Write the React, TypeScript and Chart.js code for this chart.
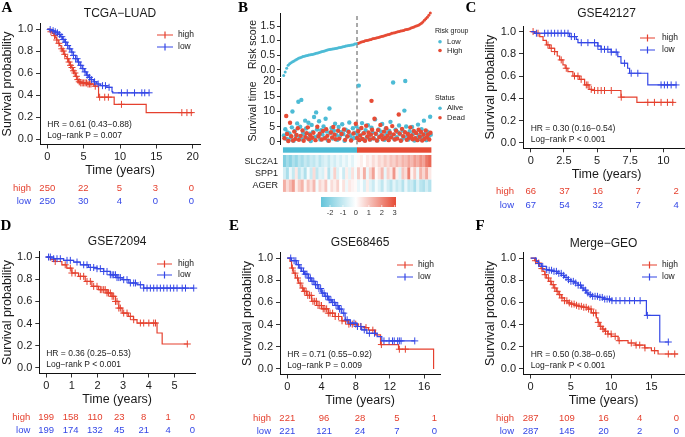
import React, { useEffect, useRef } from 'react';
import { Chart, registerables } from 'chart.js';

Chart.register(...registerables);

// ---------- palette & fonts ----------
const SANS = "'Liberation Sans', Arial, Helvetica, sans-serif";
const SERIF = "'Liberation Serif', 'Times New Roman', serif";
const KM_RED = '#E5402E';
const KM_BLUE = '#3447E6';
const NPG_RED = '#E64B35';
const NPG_CYAN = '#4DBBD5';
const TXT = '#1a1a1a';

type Pt = [number, number];

// ================= DATA =================
const survTicks = [0, 0.2, 0.4, 0.6, 0.8, 1.0];

// Panel A — TCGA-LUAD
const aXTicks = [0, 5, 10, 15, 20];
const aHighCurve: Pt[] = [[0, 1], [0.3, 0.99], [0.5, 0.975], [0.7, 0.96], [0.9, 0.94], [1.1, 0.92], [1.3, 0.9], [1.5, 0.87], [1.7, 0.85], [1.9, 0.82], [2.1, 0.8], [2.3, 0.77], [2.5, 0.75], [2.7, 0.73], [2.9, 0.7], [3.1, 0.67], [3.3, 0.65], [3.5, 0.62], [3.7, 0.6], [3.9, 0.57], [4.1, 0.54], [4.3, 0.52], [4.6, 0.51], [5.5, 0.5], [6.4, 0.48], [7.05, 0.38], [9.2, 0.315], [13.6, 0.24], [20, 0.24]];
const aLowCurve: Pt[] = [[0, 1], [0.3, 0.995], [0.6, 0.985], [0.9, 0.975], [1.2, 0.965], [1.5, 0.95], [1.8, 0.93], [2.1, 0.905], [2.4, 0.88], [2.7, 0.85], [3.0, 0.82], [3.3, 0.79], [3.6, 0.76], [3.9, 0.73], [4.2, 0.7], [4.5, 0.67], [4.8, 0.64], [5.1, 0.61], [5.4, 0.58], [5.7, 0.56], [6.0, 0.54], [6.4, 0.52], [6.8, 0.5], [7.3, 0.485], [8.2, 0.47], [8.9, 0.43], [9.0, 0.42], [14, 0.42]];
const aHighCensor = [0.5, 1.0, 1.3, 1.6, 2.0, 2.2, 2.4, 2.8, 3.0, 3.2, 3.4, 3.6, 3.8, 4.0, 4.2, 4.4, 4.6, 4.8, 5.0, 5.2, 5.4, 5.6, 5.8, 6.0, 6.6, 7.2, 7.9, 8.4, 10.2, 18.5, 19.2, 19.8];
const aLowCensor = [0.4, 0.8, 1.1, 1.4, 1.7, 2.0, 2.2, 2.5, 2.8, 3.1, 3.4, 3.6, 3.9, 4.1, 4.3, 4.6, 4.9, 5.2, 5.5, 5.8, 6.1, 6.5, 7.0, 7.6, 8.0, 8.5, 10.2, 11.0, 12.0, 13.0, 13.4, 14.0];
const aRiskTimes = [0, 4.95, 9.9, 14.85, 19.8];
const aRiskHigh = [250, 22, 5, 3, 0];
const aRiskLow = [250, 30, 4, 0, 0];

// Panel C — GSE42127
const cXTicks = [0, 2.5, 5, 7.5, 10];
const cHighCurve: Pt[] = [[0, 1], [0.3, 0.985], [0.68, 0.955], [0.93, 0.92], [1.18, 0.88], [1.43, 0.85], [1.8, 0.82], [2.0, 0.78], [2.18, 0.745], [2.43, 0.7], [2.6, 0.67], [2.8, 0.64], [3.18, 0.6], [3.68, 0.57], [4.06, 0.52], [4.4, 0.48], [4.6, 0.47], [6.8, 0.41], [8.0, 0.363], [10.8, 0.363]];
const cLowCurve: Pt[] = [[0, 1], [0.3, 0.985], [2.93, 0.955], [3.43, 0.93], [3.56, 0.9], [5.06, 0.87], [5.3, 0.84], [6.06, 0.815], [6.56, 0.775], [6.8, 0.715], [7.3, 0.67], [7.45, 0.625], [8.82, 0.52], [11.0, 0.52]];
const cHighCensor = [0.18, 0.55, 1.3, 1.55, 1.8, 2.3, 2.68, 3.3, 3.56, 3.8, 4.19, 4.31, 4.56, 4.81, 5.06, 5.31, 5.56, 6.07, 6.82, 8.82, 9.32, 9.82, 10.3, 10.7];
const cLowCensor = [0.43, 1.05, 1.3, 1.55, 1.8, 2.05, 2.3, 2.56, 2.81, 3.06, 3.3, 3.81, 4.31, 4.81, 5.06, 5.31, 5.56, 5.81, 6.07, 6.44, 7.07, 7.57, 8.07, 9.82, 10.07, 10.3, 10.58, 10.95];
const cRiskTimes = [0, 2.55, 5.05, 8.1, 10.95];
const cRiskHigh = [66, 37, 16, 7, 2];
const cRiskLow = [67, 54, 32, 7, 4];

// Panel D — GSE72094
const dXTicks = [0, 1, 2, 3, 4, 5];
const dHighCurve: Pt[] = [[0, 1], [0.16, 0.976], [0.35, 0.96], [0.61, 0.93], [0.8, 0.9], [1.0, 0.856], [1.26, 0.826], [1.52, 0.78], [1.78, 0.736], [2.04, 0.706], [2.37, 0.676], [2.56, 0.646], [2.7, 0.6], [2.83, 0.54], [2.96, 0.495], [3.2, 0.465], [3.4, 0.435], [3.54, 0.405], [4.32, 0.315], [4.52, 0.216], [5.5, 0.216]];
const dLowCurve: Pt[] = [[0, 1], [0.29, 0.985], [0.68, 0.97], [1.07, 0.955], [1.33, 0.93], [1.65, 0.906], [1.98, 0.895], [2.24, 0.87], [2.5, 0.84], [2.76, 0.815], [2.96, 0.796], [3.22, 0.766], [3.54, 0.75], [3.8, 0.72], [5.75, 0.72]];
const dHighCensor = [0.35, 0.74, 0.94, 1.0, 1.13, 1.33, 1.46, 1.59, 1.72, 1.85, 1.98, 2.11, 2.17, 2.24, 2.3, 2.37, 2.43, 2.5, 2.57, 2.63, 2.7, 2.76, 2.83, 2.89, 3.02, 3.15, 3.28, 3.41, 3.67, 3.8, 4.0, 4.19, 4.26, 5.5];
const dLowCensor = [0.09, 0.16, 0.29, 0.42, 0.55, 0.81, 0.94, 1.2, 1.46, 1.59, 1.72, 1.85, 1.98, 2.11, 2.24, 2.37, 2.5, 2.57, 2.63, 2.7, 2.76, 2.83, 2.89, 3.02, 3.15, 3.28, 3.41, 3.48, 3.67, 3.8, 3.93, 4.06, 4.19, 4.32, 4.45, 4.58, 4.71, 4.84, 4.97, 5.1, 5.3, 5.43, 5.75];
const dRiskTimes = [0, 0.95, 1.9, 2.85, 3.8, 4.75, 5.7];
const dRiskHigh = [199, 158, 110, 23, 8, 1, 0];
const dRiskLow = [199, 174, 132, 45, 21, 4, 0];

// Panel E — GSE68465
const eXTicks = [0, 4, 8, 12, 16];
const eHighCurve: Pt[] = [[0, 1], [0.31, 0.97], [0.5, 0.91], [0.7, 0.864], [0.98, 0.82], [1.29, 0.774], [1.6, 0.73], [1.88, 0.7], [2.27, 0.663], [2.85, 0.61], [3.44, 0.572], [4.02, 0.542], [4.8, 0.503], [5.59, 0.473], [6.37, 0.434], [7.15, 0.404], [8.3, 0.383], [9.1, 0.373], [9.5, 0.35], [10.3, 0.307], [10.9, 0.22], [13.0, 0.178], [17.1, 0.0]];
const eLowCurve: Pt[] = [[0, 1], [0.5, 0.976], [1.1, 0.94], [1.4, 0.91], [1.68, 0.88], [2.0, 0.855], [2.46, 0.82], [2.8, 0.79], [3.24, 0.76], [3.6, 0.725], [4.02, 0.684], [4.4, 0.655], [4.8, 0.623], [5.2, 0.6], [5.59, 0.572], [6.0, 0.54], [6.37, 0.503], [6.76, 0.443], [7.34, 0.413], [8.13, 0.383], [8.7, 0.352], [9.3, 0.322], [10.5, 0.292], [11.05, 0.253], [14.9, 0.253]];
const eHighCensor = [0.6, 0.9, 1.2, 1.5, 1.8, 2.0, 2.2, 2.4, 2.6, 2.8, 3.0, 3.2, 3.4, 3.6, 3.8, 4.0, 4.2, 4.4, 4.6, 4.8, 5.0, 5.3, 5.6, 6.0, 6.4, 6.8, 7.2, 7.6, 8.0, 8.6, 9.2, 10.0, 11.0, 13.1, 13.8];
const eLowCensor = [0.4, 0.8, 1.0, 1.3, 1.6, 1.9, 2.1, 2.3, 2.5, 2.7, 2.9, 3.1, 3.3, 3.5, 3.7, 3.9, 4.1, 4.3, 4.5, 4.7, 4.9, 5.1, 5.3, 5.5, 5.7, 5.9, 6.1, 6.3, 6.6, 7.0, 7.4, 7.8, 8.2, 8.6, 9.0, 9.6, 10.2, 11.3, 11.9, 12.3, 12.5, 12.9, 13.1, 13.3, 14.9];
const eRiskTimes = [0, 4.3, 8.5, 12.8, 17.2];
const eRiskHigh = [221, 96, 28, 5, 1];
const eRiskLow = [221, 121, 24, 7, 0];

// Panel F — Merge-GEO
const fXTicks = [0, 5, 10, 15];
const fHighCurve: Pt[] = [[0, 1], [0.5, 0.976], [0.8, 0.955], [1.12, 0.925], [1.3, 0.905], [1.53, 0.88], [1.75, 0.85], [1.95, 0.82], [2.25, 0.79], [2.57, 0.76], [2.9, 0.73], [3.19, 0.7], [3.5, 0.67], [3.81, 0.64], [4.2, 0.615], [4.64, 0.595], [5.0, 0.585], [5.47, 0.574], [6.0, 0.565], [6.5, 0.556], [7.13, 0.54], [7.54, 0.505], [8.16, 0.46], [8.35, 0.42], [8.58, 0.384], [8.9, 0.36], [9.2, 0.34], [9.6, 0.315], [10.03, 0.294], [10.86, 0.255], [12.1, 0.234], [13.0, 0.215], [14.17, 0.19], [15.0, 0.165], [15.83, 0.135], [18.3, 0.135]];
const fLowCurve: Pt[] = [[0, 1], [0.7, 0.97], [1.0, 0.95], [1.33, 0.925], [1.95, 0.895], [2.3, 0.89], [2.78, 0.88], [3.3, 0.862], [3.81, 0.844], [4.2, 0.825], [4.64, 0.805], [5.0, 0.79], [5.47, 0.775], [5.9, 0.755], [6.3, 0.73], [6.6, 0.71], [6.92, 0.685], [7.2, 0.67], [7.54, 0.655], [8.37, 0.645], [9.0, 0.63], [10.03, 0.616], [14.38, 0.483], [16.04, 0.243], [17.1, 0.243]];
const fHighCensor = [0.6, 1.0, 1.4, 1.8, 2.2, 2.5, 2.8, 3.0, 3.3, 3.6, 3.9, 4.2, 4.5, 4.8, 5.1, 5.4, 5.7, 6.0, 6.3, 6.6, 6.9, 7.2, 7.5, 7.8, 8.1, 8.4, 8.7, 9.0, 9.3, 9.6, 10.0, 10.5, 11.0, 12.5, 13.1, 13.55, 14.2, 15.4, 17.1, 17.9];
const fLowCensor = [1.0, 1.5, 2.0, 2.3, 2.6, 2.9, 3.2, 3.5, 3.8, 4.1, 4.4, 4.7, 5.0, 5.3, 5.6, 5.9, 6.2, 6.5, 6.8, 7.1, 7.4, 7.7, 8.0, 8.3, 8.6, 8.9, 9.2, 9.5, 9.8, 10.1, 10.6, 11.1, 11.7, 12.3, 12.9, 13.6, 14.5, 17.1];
const fRiskTimes = [0, 4.5, 9.05, 13.55, 18.1];
const fRiskHigh = [287, 109, 16, 4, 0];
const fRiskLow = [287, 145, 20, 2, 0];

// Panel B — risk score, survival status, heatmap
const nPatients = 500;
const cutoffRank = 250;
const riskTicks = [0, 0.5, 1.0, 1.5];
const survTimeTicks = [0, 5, 10, 15, 20];
const riskScoreLow = [-0.2, -0.08, 0.05, 0.15, 0.2, 0.24, 0.27, 0.3, 0.33, 0.36, 0.39, 0.41, 0.43, 0.45, 0.46, 0.48, 0.49, 0.5, 0.51, 0.52, 0.53, 0.545, 0.56, 0.575, 0.59, 0.605, 0.62, 0.635, 0.65, 0.665, 0.68, 0.69, 0.7, 0.71, 0.72, 0.73, 0.74, 0.75, 0.76, 0.77, 0.79, 0.8, 0.81, 0.82, 0.83, 0.84, 0.85, 0.86, 0.88, 0.89];
const riskScoreHigh = [0.9, 0.92, 0.94, 0.96, 0.97, 0.99, 1.0, 1.01, 1.03, 1.04, 1.06, 1.07, 1.08, 1.1, 1.11, 1.12, 1.14, 1.15, 1.17, 1.18, 1.2, 1.21, 1.23, 1.25, 1.26, 1.27, 1.29, 1.3, 1.31, 1.33, 1.34, 1.35, 1.37, 1.38, 1.39, 1.41, 1.43, 1.45, 1.47, 1.49, 1.51, 1.53, 1.56, 1.6, 1.64, 1.7, 1.75, 1.8, 1.87, 1.95];
const aliveRankYears: Pt[] = [[3, 2.1], [8, 4.2], [12, 1.0], [15, 3.1], [19, 0.6], [22, 2.8], [26, 1.5], [30, 4.8], [32, 10.0], [36, 0.4], [40, 3.6], [44, 2.2], [48, 6.1], [52, 13.2], [55, 1.8], [58, 5.0], [62, 13.8], [65, 0.9], [68, 3.0], [72, 2.4], [75, 7.0], [78, 4.4], [82, 1.2], [86, 6.3], [90, 2.7], [94, 0.3], [97, 5.6], [101, 3.3], [105, 8.2], [108, 1.6], [112, 9.7], [115, 4.1], [118, 2.0], [122, 6.8], [126, 0.8], [129, 3.9], [133, 2.5], [137, 5.1], [140, 1.4], [144, 7.6], [148, 3.4], [152, 0.5], [157, 11.0], [160, 2.9], [164, 4.6], [168, 1.1], [172, 3.7], [176, 6.0], [180, 2.3], [184, 0.7], [188, 4.9], [192, 1.9], [196, 3.2], [200, 5.8], [204, 2.6], [208, 0.4], [212, 4.0], [216, 1.7], [220, 3.5], [224, 6.4], [228, 2.1], [232, 0.9], [236, 4.5], [240, 1.3], [244, 3.0], [248, 5.2], [252, 2.4], [256, 18.5], [259, 4.3], [263, 1.0], [267, 6.2], [271, 2.8], [275, 0.6], [279, 3.9], [283, 1.5], [287, 5.5], [291, 2.2], [295, 0.8], [299, 4.7], [303, 3.1], [307, 1.2], [311, 7.4], [315, 2.6], [319, 0.5], [323, 4.1], [327, 1.8], [331, 3.4], [335, 5.9], [339, 2.0], [343, 0.7], [347, 4.4], [351, 2.9], [355, 1.1], [359, 3.6], [363, 6.6], [367, 2.3], [372, 19.5], [376, 0.9], [380, 4.0], [384, 1.6], [388, 3.2], [392, 5.4], [396, 2.5], [400, 0.6], [404, 3.8], [408, 1.4], [410, 10.3], [413, 20.0], [416, 5.1], [420, 2.0], [424, 0.8], [428, 3.5], [432, 1.7], [436, 4.9], [440, 2.7], [444, 0.5], [448, 3.1], [452, 1.3], [456, 5.7], [460, 2.2], [464, 0.9], [468, 4.2], [472, 1.5], [476, 7.0], [480, 2.8], [484, 0.6], [488, 3.4], [492, 1.9], [497, 8.3], [499, 2.4]];
const deadRankYears: Pt[] = [[5, 1.2], [11, 8.5], [14, 2.6], [18, 0.3], [24, 6.3], [28, 1.9], [34, 0.5], [38, 3.4], [42, 1.0], [46, 2.3], [50, 4.5], [54, 0.7], [60, 2.0], [66, 3.8], [70, 0.4], [76, 1.6], [80, 2.9], [84, 4.8], [88, 0.9], [92, 2.2], [99, 1.4], [103, 3.0], [110, 0.6], [116, 5.0], [120, 1.8], [124, 2.7], [131, 0.8], [135, 3.6], [142, 1.2], [146, 4.2], [150, 2.0], [155, 0.4], [162, 3.2], [166, 1.5], [170, 4.9], [174, 2.4], [178, 0.9], [186, 3.7], [190, 1.1], [198, 2.6], [206, 4.1], [210, 0.7], [218, 1.9], [222, 3.3], [230, 0.5], [238, 2.8], [246, 6.0], [250, 1.3], [254, 3.5], [258, 0.6], [261, 2.1], [265, 4.6], [269, 1.0], [273, 2.9], [277, 0.4], [281, 5.3], [285, 1.8], [289, 3.1], [293, 0.8], [297, 2.4], [299, 13.5], [301, 4.0], [305, 1.2], [309, 7.6], [313, 2.7], [317, 0.5], [321, 3.9], [325, 1.6], [329, 5.6], [333, 2.2], [337, 0.9], [341, 3.4], [345, 1.3], [349, 4.5], [353, 2.0], [357, 0.6], [361, 3.0], [365, 1.5], [369, 5.2], [374, 2.5], [378, 0.8], [382, 3.7], [386, 1.1], [391, 9.0], [394, 2.8], [398, 0.4], [402, 4.3], [406, 1.9], [412, 3.2], [418, 0.7], [422, 2.6], [426, 1.4], [430, 4.8], [434, 2.1], [438, 0.9], [442, 3.6], [446, 1.2], [450, 2.9], [454, 0.6], [458, 4.0], [462, 1.7], [466, 3.3], [470, 0.5], [474, 2.4], [478, 1.0], [482, 3.8], [486, 1.6], [490, 2.5], [494, 0.8], [498, 3.0]];
const geneNames = ['SLC2A1', 'SPP1', 'AGER'];
const slc2a1Expr = [-2.2, -1.6, -2.0, -1.4, -1.8, -1.2, -1.5, -1.0, -1.3, -0.9, -1.1, -0.7, -1.2, -0.8, -0.6, -1.0, -0.5, -0.8, -0.4, -0.7, -0.3, -0.6, -0.2, -0.5, -0.1, 0.1, 0.3, 0.0, 0.4, 0.2, 0.6, 0.3, 0.7, 0.5, 0.9, 0.6, 1.0, 0.8, 1.2, 0.9, 1.3, 1.1, 1.5, 1.2, 1.7, 1.4, 1.9, 1.6, 2.3, 2.6];
const spp1Expr = [-0.8, -1.5, -0.3, -1.0, 0.4, -1.2, -0.6, -1.4, -0.2, -0.9, 0.6, -1.1, -0.5, -0.7, 0.2, -1.3, -0.4, 0.8, -0.6, -0.1, -0.9, 0.3, -0.5, 0.5, -0.2, 0.9, 0.2, 1.4, -0.3, 0.7, 1.6, 0.1, 0.5, 1.2, -0.4, 0.8, 0.4, 1.8, 0.3, -0.6, 1.0, 0.6, 2.2, 0.2, 0.9, -0.3, 1.3, 0.7, 1.5, 0.4];
const agerExpr = [1.4, 0.6, 1.1, 1.7, 0.3, 0.9, 1.3, 0.2, 1.0, 0.5, 1.2, -0.2, 0.7, 0.4, 1.0, -0.1, 0.6, 0.3, 0.8, 0.0, 0.5, -0.3, 0.4, 0.2, 0.1, -0.4, -0.1, -0.7, 0.3, -0.5, -0.9, -0.2, -0.6, -1.1, -0.3, -0.8, -1.2, -0.5, -1.0, -0.7, -1.3, -0.4, -1.1, -0.9, -1.5, -0.6, -1.2, -1.4, -0.8, -1.3];
const colorbarTicks = [-2, -1, 0, 1, 2, 3];
const colorbarMin = -2.7;
const colorbarMax = 3.1;

// ================= helpers =================
function survAt(curve: Pt[], t: number) {
  let s = curve[0][1];
  for (const [x, y] of curve) {
    if (x <= t) s = y;
    else break;
  }
  return s;
}

function mix(a: number[], t: number) {
  const c = a.map((v) => Math.round(255 + (v - 255) * t));
  return `rgb(${c[0]},${c[1]},${c[2]})`;
}
const CYAN_RGB = [77, 187, 213];
const RED_RGB = [230, 75, 53];
function heatColor(v: number) {
  const t = Math.min(1, Math.abs(v) / colorbarMax);
  return v < 0 ? mix(CYAN_RGB, t) : mix(RED_RGB, t);
}

function txt(ctx: any, s: string, x: number, y: number, font: string, color: string, align = 'left') {
  ctx.font = font;
  ctx.fillStyle = color;
  ctx.textAlign = align;
  ctx.textBaseline = 'middle';
  ctx.fillText(s, x, y);
}

function vtxt(ctx: any, s: string, x: number, y: number, font: string) {
  ctx.save();
  ctx.translate(x, y);
  ctx.rotate(-Math.PI / 2);
  txt(ctx, s, 0, 0, font, TXT, 'center');
  ctx.restore();
}

function axis(ticks: number[], fmt: (v: number) => string, size: number, tickLen: number, pad: number) {
  return {
    type: 'linear',
    bounds: 'data',
    afterBuildTicks: (s: any) => {
      s.ticks = ticks.map((v) => ({ value: v }));
    },
    grid: { display: true, drawOnChartArea: false, drawTicks: true, tickLength: tickLen, color: '#333', lineWidth: 1 },
    border: { display: true, color: '#111', width: 1 },
    ticks: { font: { family: SANS, size }, color: TXT, padding: pad, autoSkip: false, maxRotation: 0, callback: (v: any) => fmt(Number(v)) },
  };
}

type Box = { x: number; y: number; w: number; h: number };
type Area = { l: number; r: number; t: number; b: number };

// ================= KM panels =================
const kmPanels = [
  { letter: 'A', letterPos: [7, 8], title: 'TCGA\u2212LUAD', titleY: 14, box: { x: 0, y: 0, w: 228, h: 215 }, area: { l: 40, r: 200, t: 23.5, b: 144.5 }, xMin: -1, xMax: 21, xTicks: aXTicks, high: aHighCurve, low: aLowCurve, highCensor: aHighCensor, lowCensor: aLowCensor, riskTimes: aRiskTimes, riskHigh: aRiskHigh, riskLow: aRiskLow, hr: 'HR = 0.61 (0.43\u22120.88)', p: 'Log\u2212rank P = 0.007', legend: { x1: 157, x2: 173, tx: 178, y1: 35, y2: 47 } },
  { letter: 'C', letterPos: [471, 8], title: 'GSE42127', titleY: 14, box: { x: 455, y: 0, w: 240, h: 215 }, area: { l: 523, r: 690, t: 26, b: 148.3 }, xMin: -0.58, xMax: 12.0, xTicks: cXTicks, high: cHighCurve, low: cLowCurve, highCensor: cHighCensor, lowCensor: cLowCensor, riskTimes: cRiskTimes, riskHigh: cRiskHigh, riskLow: cRiskLow, hr: 'HR = 0.30 (0.16\u22120.54)', p: 'Log\u2212rank P < 0.001', legend: { x1: 640, x2: 655, tx: 662, y1: 38, y2: 50 } },
  { letter: 'D', letterPos: [6, 226], title: 'GSE72094', titleY: 242, box: { x: 0, y: 218, w: 228, h: 219 }, area: { l: 39.3, r: 195, t: 251.5, b: 373.5 }, xMin: -0.27, xMax: 5.8, xTicks: dXTicks, high: dHighCurve, low: dLowCurve, highCensor: dHighCensor, lowCensor: dLowCensor, riskTimes: dRiskTimes, riskHigh: dRiskHigh, riskLow: dRiskLow, hr: 'HR = 0.36 (0.25\u22120.53)', p: 'Log\u2212rank P < 0.001', legend: { x1: 157, x2: 172, tx: 178, y1: 264, y2: 275 } },
  { letter: 'E', letterPos: [234, 226], title: 'GSE68465', titleY: 243, box: { x: 225, y: 218, w: 228, h: 219 }, area: { l: 280, r: 440, t: 252.5, b: 374.5 }, xMin: -0.85, xMax: 17.85, xTicks: eXTicks, high: eHighCurve, low: eLowCurve, highCensor: eHighCensor, lowCensor: eLowCensor, riskTimes: eRiskTimes, riskHigh: eRiskHigh, riskLow: eRiskLow, hr: 'HR = 0.71 (0.55\u22120.92)', p: 'Log\u2212rank P = 0.009', legend: { x1: 397, x2: 413, tx: 418, y1: 265, y2: 277 } },
  { letter: 'F', letterPos: [480, 226], title: 'Merge\u2212GEO', titleY: 244, box: { x: 455, y: 218, w: 235, h: 219 }, area: { l: 523, r: 684, t: 252.5, b: 374.5 }, xMin: -0.95, xMax: 19.05, xTicks: fXTicks, high: fHighCurve, low: fLowCurve, highCensor: fHighCensor, lowCensor: fLowCensor, riskTimes: fRiskTimes, riskHigh: fRiskHigh, riskLow: fRiskLow, hr: 'HR = 0.50 (0.38\u22120.65)', p: 'Log\u2212rank P < 0.001', legend: { x1: 642, x2: 657, tx: 662, y1: 265, y2: 277 } },
];

const X_AXIS_H = 22;

function pad(box: Box, area: Area, yAxisW: number, xAxisH: number) {
  return {
    left: area.l - box.x - yAxisW,
    top: area.t - box.y,
    right: box.x + box.w - area.r,
    bottom: box.y + box.h - area.b - xAxisH,
  };
}

const baseOptions = {
  responsive: false,
  animation: false,
  devicePixelRatio: 1,
  events: [],
};

function kmConfig(p: any) {
  const box: Box = p.box;
  const area: Area = p.area;
  const curve = (c: Pt[], color: string) => ({
    data: c.map(([x, y]) => ({ x, y })),
    stepped: true,
    borderColor: color,
    borderWidth: 1.2,
    pointRadius: 0,
    fill: false,
  });
  const marks = (c: Pt[], times: number[], color: string) => ({
    data: times.map((t) => ({ x: t, y: survAt(c, t) })),
    showLine: false,
    pointStyle: 'cross',
    pointRadius: 3.5,
    pointBorderColor: color,
    pointBorderWidth: 1,
    clip: false,
  });
  const plugin = {
    id: 'km' + p.letter,
    afterDraw(chart: any) {
      const ctx = chart.ctx;
      const a = chart.chartArea;
      const xs = chart.scales.x;
      const ox = box.x;
      const oy = box.y;
      ctx.save();
      txt(ctx, p.letter, p.letterPos[0] - ox, p.letterPos[1] - oy, `bold 15px ${SERIF}`, '#000', 'center');
      const cx = (a.left + a.right) / 2;
      txt(ctx, p.title, cx, p.titleY - oy, `12px ${SANS}`, TXT, 'center');
      txt(ctx, 'Time (years)', cx, a.bottom + 26.5, `12.5px ${SANS}`, TXT, 'center');
      vtxt(ctx, 'Survival probability', a.left - 32, (a.top + a.bottom) / 2, `12.5px ${SANS}`);
      const x0 = xs.getPixelForValue(0);
      txt(ctx, p.hr, x0, a.bottom - 20, `8.5px ${SANS}`, TXT, 'left');
      txt(ctx, p.p, x0, a.bottom - 9, `8.5px ${SANS}`, TXT, 'left');
      const lg = p.legend;
      const rows = [
        { y: lg.y1, c: KM_RED, s: 'high' },
        { y: lg.y2, c: KM_BLUE, s: 'low' },
      ];
      for (const r of rows) {
        const y = r.y - oy;
        ctx.strokeStyle = r.c;
        ctx.lineWidth = 1.2;
        ctx.beginPath();
        ctx.moveTo(lg.x1 - ox, y);
        ctx.lineTo(lg.x2 - ox, y);
        const mx = (lg.x1 + lg.x2) / 2 - ox;
        ctx.moveTo(mx, y - 3.5);
        ctx.lineTo(mx, y + 3.5);
        ctx.stroke();
        txt(ctx, r.s, lg.tx - ox, y, `8.5px ${SANS}`, TXT, 'left');
      }
      const yH = a.bottom + 43.5;
      const yL = a.bottom + 57;
      txt(ctx, 'high', a.left - 9, yH, `9.5px ${SANS}`, KM_RED, 'right');
      txt(ctx, 'low', a.left - 9, yL, `9.5px ${SANS}`, KM_BLUE, 'right');
      p.riskTimes.forEach((t: number, i: number) => {
        const x = xs.getPixelForValue(t);
        txt(ctx, String(p.riskHigh[i]), x, yH, `9.5px ${SANS}`, KM_RED, 'center');
        txt(ctx, String(p.riskLow[i]), x, yL, `9.5px ${SANS}`, KM_BLUE, 'center');
      });
      ctx.restore();
    },
  };
  const yAxisW = area.l - box.x;
  return {
    type: 'line',
    data: {
      datasets: [
        marks(p.low, p.lowCensor, KM_BLUE),
        curve(p.low, KM_BLUE),
        marks(p.high, p.highCensor, KM_RED),
        curve(p.high, KM_RED),
      ],
    },
    options: {
      ...baseOptions,
      layout: { padding: pad(box, area, yAxisW, X_AXIS_H) },
      plugins: { legend: { display: false }, tooltip: { enabled: false }, title: { display: false } },
      scales: {
        x: {
          ...axis(p.xTicks, (v) => String(v), 11, 4, 2),
          min: p.xMin,
          max: p.xMax,
          afterFit: (s: any) => {
            s.height = X_AXIS_H;
          },
        },
        y: {
          ...axis(survTicks, (v) => v.toFixed(1), 11, 4, 3),
          min: -0.05,
          max: 1.05,
          afterFit: (s: any) => {
            s.width = yAxisW;
          },
        },
      },
    },
    plugins: [plugin],
  };
}

// ================= Panel B =================
const rankMin = -10;
const rankMax = 510;
const B_L = 280;
const B_R = 434;
const riskBox: Box = { x: 225, y: 0, w: 255, h: 90 };
const riskArea: Area = { l: B_L, r: B_R, t: 13, b: 76 };
const riskYMin = -0.22;
const riskYMax = 1.95;
const survBox: Box = { x: 225, y: 60, w: 255, h: 100 };
const survArea: Area = { l: B_L, r: B_R, t: 78.6, b: 144.4 };
const survYMin = -0.8;
const survYMax = 20.8;
const heatBox: Box = { x: 225, y: 140, w: 255, h: 60 };
const heatArea: Area = { l: B_L, r: B_R, t: 147.3, b: 191.7 };
const heatRows = [
  { c: 2.7, h: 5.4 },
  { c: 13.85, h: 12.3 },
  { c: 26.15, h: 12.3 },
  { c: 38.45, h: 12.3 },
];
const cbBox: Box = { x: 300, y: 188, w: 120, h: 32 };
const cbArea: Area = { l: 321, r: 396, t: 197, b: 207 };

function dashedCutoff(yMin: number, yMax: number) {
  return {
    data: [
      { x: cutoffRank, y: yMin },
      { x: cutoffRank, y: yMax },
    ],
    borderColor: '#555',
    borderWidth: 1,
    borderDash: [4, 3],
    pointRadius: 0,
    clip: false,
  };
}

function legendBlock(ctx: any, ox: number, oy: number, title: string, ty: number, items: { s: string; c: string; y: number }[]) {
  txt(ctx, title, 435 - ox, ty - oy, `7px ${SANS}`, TXT, 'left');
  for (const it of items) {
    ctx.fillStyle = it.c;
    ctx.beginPath();
    ctx.arc(440 - ox, it.y - oy, 1.8, 0, Math.PI * 2);
    ctx.fill();
    txt(ctx, it.s, 447 - ox, it.y - oy, `7.5px ${SANS}`, TXT, 'left');
  }
}

function riskConfig() {
  const ranksPerPoint = nPatients / (riskScoreLow.length + riskScoreHigh.length);
  const yAxisW = riskArea.l - riskBox.x;
  return {
    type: 'line',
    data: {
      datasets: [
        { data: riskScoreLow.map((v, i) => ({ x: (i + 0.5) * ranksPerPoint, y: v })), showLine: false, pointRadius: 1.5, pointBackgroundColor: NPG_CYAN, pointBorderWidth: 0, clip: false },
        { data: riskScoreHigh.map((v, i) => ({ x: cutoffRank + (i + 0.5) * ranksPerPoint, y: v })), showLine: false, pointRadius: 1.5, pointBackgroundColor: NPG_RED, pointBorderWidth: 0, clip: false },
        dashedCutoff(riskYMin, riskYMax),
      ],
    },
    options: {
      ...baseOptions,
      layout: { padding: pad(riskBox, riskArea, yAxisW, 0) },
      plugins: { legend: { display: false }, tooltip: { enabled: false } },
      scales: {
        x: { type: 'linear', display: false, min: rankMin, max: rankMax },
        y: { ...axis(riskTicks, (v) => v.toFixed(1), 10.5, 3, 2), min: riskYMin, max: riskYMax, afterFit: (s: any) => { s.width = yAxisW; } },
      },
    },
    plugins: [
      {
        id: 'riskB',
        afterDraw(chart: any) {
          const ctx = chart.ctx;
          const a = chart.chartArea;
          const ox = riskBox.x, oy = riskBox.y;
          ctx.save();
          txt(ctx, 'B', 243 - ox, 8 - oy, `bold 15px ${SERIF}`, '#000', 'center');
          vtxt(ctx, 'Risk score', 253 - ox, (a.top + a.bottom) / 2, `10.5px ${SANS}`);
          legendBlock(ctx, ox, oy, 'Risk group', 31, [
            { s: 'Low', c: NPG_CYAN, y: 41.7 },
            { s: 'High', c: NPG_RED, y: 50.5 },
          ]);
          ctx.restore();
        },
      },
    ],
  };
}

function survConfig() {
  const yAxisW = survArea.l - survBox.x;
  const pts = (arr: Pt[]) => arr.map(([x, y]) => ({ x, y }));
  return {
    type: 'line',
    data: {
      datasets: [
        { data: pts(deadRankYears), showLine: false, pointRadius: 2.2, pointBackgroundColor: NPG_RED, pointBorderWidth: 0, clip: false },
        { data: pts(aliveRankYears), showLine: false, pointRadius: 2.2, pointBackgroundColor: NPG_CYAN, pointBorderWidth: 0, clip: false },
        dashedCutoff(survYMin, survYMax),
      ],
    },
    options: {
      ...baseOptions,
      layout: { padding: pad(survBox, survArea, yAxisW, 0) },
      plugins: { legend: { display: false }, tooltip: { enabled: false } },
      scales: {
        x: { type: 'linear', display: false, min: rankMin, max: rankMax },
        y: { ...axis(survTimeTicks, (v) => String(v), 10.5, 3, 2), min: survYMin, max: survYMax, afterFit: (s: any) => { s.width = yAxisW; } },
      },
    },
    plugins: [
      {
        id: 'survB',
        afterDraw(chart: any) {
          const ctx = chart.ctx;
          const a = chart.chartArea;
          const ox = survBox.x, oy = survBox.y;
          ctx.save();
          vtxt(ctx, 'Survival time', 253 - ox, (a.top + a.bottom) / 2, `10.5px ${SANS}`);
          legendBlock(ctx, ox, oy, 'Status', 97.7, [
            { s: 'Alive', c: NPG_CYAN, y: 108.3 },
            { s: 'Dead', c: NPG_RED, y: 117.7 },
          ]);
          ctx.restore();
        },
      },
    ],
  };
}

function cell(ctx: any, xs: any, ys: any, x0: number, x1: number, c: number, h: number, color: string) {
  const px0 = xs.getPixelForValue(x0);
  const px1 = xs.getPixelForValue(x1);
  const py0 = ys.getPixelForValue(c - h / 2);
  const py1 = ys.getPixelForValue(c + h / 2);
  ctx.fillStyle = color;
  ctx.fillRect(px0, Math.min(py0, py1), px1 - px0 + 0.35, Math.abs(py1 - py0));
}

function heatConfig() {
  const genes = [slc2a1Expr, spp1Expr, agerExpr];
  const binRanks = nPatients / slc2a1Expr.length;
  return {
    type: 'line',
    data: { datasets: [{ data: [] }] },
    options: {
      ...baseOptions,
      layout: { padding: pad(heatBox, heatArea, 0, 0) },
      plugins: { legend: { display: false }, tooltip: { enabled: false } },
      scales: {
        x: { type: 'linear', display: false, min: rankMin, max: rankMax },
        y: { type: 'linear', display: false, min: 0, max: 44.4, reverse: true },
      },
    },
    plugins: [
      {
        id: 'heatCells',
        afterDraw(chart: any) {
          const ctx = chart.ctx;
          const a = chart.chartArea;
          const xs = chart.scales.x;
          const ys = chart.scales.y;
          ctx.save();
          cell(ctx, xs, ys, 0, cutoffRank, heatRows[0].c, heatRows[0].h, NPG_CYAN);
          cell(ctx, xs, ys, cutoffRank, nPatients, heatRows[0].c, heatRows[0].h, NPG_RED);
          genes.forEach((g, gi) => {
            const row = heatRows[gi + 1];
            g.forEach((v, i) => cell(ctx, xs, ys, i * binRanks, (i + 1) * binRanks, row.c, row.h, heatColor(v)));
            txt(ctx, geneNames[gi], a.left - 2, ys.getPixelForValue(row.c), `9px ${SANS}`, TXT, 'right');
          });
          ctx.restore();
        },
      },
    ],
  };
}

function colorbarConfig() {
  return {
    type: 'line',
    data: { datasets: [{ data: [] }] },
    options: {
      ...baseOptions,
      layout: { padding: pad(cbBox, cbArea, 0, 0) },
      plugins: { legend: { display: false }, tooltip: { enabled: false } },
      scales: {
        x: { type: 'linear', display: false, min: colorbarMin, max: colorbarMax },
        y: { type: 'linear', display: false, min: 0, max: 1 },
      },
    },
    plugins: [
      {
        id: 'colorbar',
        afterDraw(chart: any) {
          const ctx = chart.ctx;
          const a = chart.chartArea;
          const xs = chart.scales.x;
          const x0 = xs.getPixelForValue(colorbarMin);
          const x1 = xs.getPixelForValue(colorbarMax);
          ctx.save();
          const g = ctx.createLinearGradient(x0, 0, x1, 0);
          g.addColorStop(0, heatColor(colorbarMin));
          g.addColorStop((0 - colorbarMin) / (colorbarMax - colorbarMin), '#ffffff');
          g.addColorStop(1, heatColor(colorbarMax));
          ctx.fillStyle = g;
          ctx.fillRect(x0, a.top, x1 - x0, a.bottom - a.top);
          colorbarTicks.forEach((v) => {
            const x = xs.getPixelForValue(v);
            ctx.strokeStyle = 'rgba(255,255,255,0.9)';
            ctx.lineWidth = 0.8;
            ctx.beginPath();
            ctx.moveTo(x, a.bottom - 2);
            ctx.lineTo(x, a.bottom);
            ctx.stroke();
            txt(ctx, String(v), x, a.bottom + 5.5, `7.5px ${SANS}`, '#333', 'center');
          });
          ctx.restore();
        },
      },
    ],
  };
}

// ================= React =================
function ChartBox({ box, build }: { box: Box; build: () => any }) {
  const ref = useRef<HTMLCanvasElement | null>(null);
  useEffect(() => {
    const chart = new Chart(ref.current as HTMLCanvasElement, build());
    return () => chart.destroy();
  }, []);
  return (
    <canvas
      ref={ref}
      width={box.w}
      height={box.h}
      style={{ position: 'absolute', left: box.x, top: box.y, width: box.w, height: box.h }}
    />
  );
}

export default function App() {
  return (
    <div style={{ position: 'fixed', left: 0, top: 0, width: 685, height: 437, overflow: 'hidden', background: '#ffffff' }}>
      <ChartBox box={riskBox} build={riskConfig} />
      <ChartBox box={survBox} build={survConfig} />
      <ChartBox box={heatBox} build={heatConfig} />
      <ChartBox box={cbBox} build={colorbarConfig} />
      {kmPanels.map((p) => (
        <ChartBox key={p.letter} box={p.box} build={() => kmConfig(p)} />
      ))}
    </div>
  );
}
